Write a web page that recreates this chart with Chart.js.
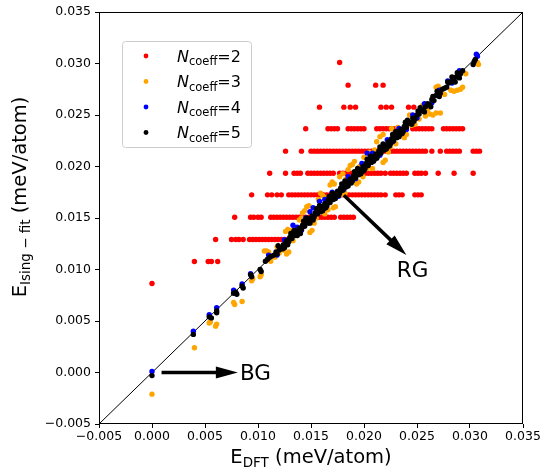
<!DOCTYPE html>
<html><head><meta charset="utf-8">
<script src="https://cdn.jsdelivr.net/npm/chart.js@4/dist/chart.umd.min.js"></script>
<style>html,body{margin:0;padding:0;background:#fff;}canvas{display:block;}</style>
</head><body>
<canvas id="c" width="545" height="476"></canvas>
<script>
// ---- axis ----
const axisMin = -0.005, axisMax = 0.035, axisStep = 0.005;

// ---- N_coeff = 2 (red): horizontal rows, y level -> x values ----
const redLevels = [0.00864, 0.01078, 0.01291, 0.01508, 0.01725, 0.01935, 0.02149, 0.02366, 0.02576, 0.0279, 0.0301];
const redRowX = [
  [0.0000],
  [0.0040, 0.0053, 0.0056, 0.0062],
  [0.0060, 0.0075, 0.0079, 0.0082, 0.0086, 0.0092, 0.0095, 0.0098, 0.0101, 0.0104, 0.0107, 0.0110, 0.0113, 0.0116, 0.0119, 0.0122, 0.0125, 0.0128],
  [0.0078, 0.0093, 0.0096, 0.0100, 0.0103, 0.0112, 0.0115, 0.0118, 0.0121, 0.0124, 0.0127, 0.0130, 0.0133, 0.0136, 0.0139, 0.0142, 0.0145, 0.0148, 0.0151, 0.0154, 0.0157, 0.0160, 0.0163, 0.0166, 0.0169, 0.0172, 0.0178, 0.0181, 0.0184, 0.0187, 0.0190],
  [0.0094, 0.0109, 0.0113, 0.0118, 0.0122, 0.0129, 0.0132, 0.0135, 0.0138, 0.0141, 0.0144, 0.0147, 0.0150, 0.0153, 0.0156, 0.0159, 0.0162, 0.0165, 0.0168, 0.0171, 0.0174, 0.0177, 0.0180, 0.0183, 0.0186, 0.0189, 0.0192, 0.0195, 0.0198, 0.0201, 0.0204, 0.0207, 0.0210, 0.0213, 0.0216, 0.0220, 0.0230, 0.0233, 0.0236, 0.0248, 0.0251, 0.0254],
  [0.0111, 0.0126, 0.0134, 0.0137, 0.0140, 0.0147, 0.0150, 0.0153, 0.0156, 0.0159, 0.0162, 0.0165, 0.0168, 0.0171, 0.0177, 0.0180, 0.0183, 0.0186, 0.0189, 0.0192, 0.0195, 0.0198, 0.0201, 0.0204, 0.0207, 0.0210, 0.0213, 0.0216, 0.0220, 0.0225, 0.0228, 0.0231, 0.0234, 0.0237, 0.0240, 0.0248, 0.0251, 0.0254, 0.0258, 0.0270, 0.0285, 0.0303],
  [0.0126, 0.0141, 0.0150, 0.0153, 0.0156, 0.0159, 0.0162, 0.0165, 0.0168, 0.0171, 0.0174, 0.0177, 0.0180, 0.0183, 0.0186, 0.0189, 0.0192, 0.0195, 0.0198, 0.0201, 0.0204, 0.0207, 0.0210, 0.0213, 0.0216, 0.0219, 0.0222, 0.0225, 0.0228, 0.0231, 0.0234, 0.0237, 0.0240, 0.0243, 0.0246, 0.0249, 0.0252, 0.0255, 0.0258, 0.0264, 0.0272, 0.0278, 0.0281, 0.0284, 0.0287, 0.0290, 0.0303, 0.0306, 0.0309],
  [0.0145, 0.0166, 0.0169, 0.0172, 0.0175, 0.0185, 0.0188, 0.0191, 0.0194, 0.0197, 0.0200, 0.0212, 0.0215, 0.0218, 0.0221, 0.0224, 0.0227, 0.0230, 0.0246, 0.0249, 0.0252, 0.0255, 0.0258, 0.0261, 0.0264, 0.0275, 0.0278, 0.0281, 0.0284, 0.0287, 0.0290, 0.0293],
  [0.0158, 0.0181, 0.0187, 0.0192, 0.0216, 0.0221, 0.0226, 0.0242, 0.0247],
  [0.0185, 0.0211, 0.0218],
  [0.0177]
];

// ---- N_coeff = 3 (orange) [x, y] ----
const orangePts = [[0.0000,-0.0021],[0.0040,0.0024],[0.0054,0.0048],[0.0055,0.0049],[0.0061,0.0047],[0.0060,0.0045],[0.0077,0.0068],[0.0078,0.0066],[0.0085,0.0069],[0.0094,0.0089],[0.0095,0.0091],[0.0102,0.0093],[0.0103,0.0095],[0.0106,0.0118],[0.0108,0.0118],[0.0110,0.0117],[0.0112,0.0108],[0.0116,0.0112],[0.0120,0.0116],[0.0127,0.0115],[0.0129,0.0117],[0.0126,0.0137],[0.0128,0.0139],[0.0130,0.0138],[0.0133,0.0128],[0.0137,0.0133],[0.0139,0.0148],[0.0141,0.0150],[0.0142,0.0155],[0.0144,0.0157],[0.0146,0.0161],[0.0148,0.0162],[0.0149,0.0136],[0.0151,0.0138],[0.0153,0.0145],[0.0157,0.0168],[0.0159,0.0174],[0.0161,0.0172],[0.0163,0.0154],[0.0166,0.0158],[0.0168,0.0182],[0.0170,0.0185],[0.0172,0.0183],[0.0171,0.0160],[0.0173,0.0161],[0.0177,0.0190],[0.0180,0.0193],[0.0182,0.0174],[0.0185,0.0197],[0.0187,0.0201],[0.0189,0.0202],[0.0191,0.0205],[0.0193,0.0183],[0.0195,0.0185],[0.0199,0.0190],[0.0200,0.0209],[0.0205,0.0214],[0.0208,0.0198],[0.0212,0.0224],[0.0215,0.0229],[0.0218,0.0231],[0.0218,0.0204],[0.0220,0.0206],[0.0223,0.0214],[0.0226,0.0237],[0.0230,0.0222],[0.0237,0.0230],[0.0238,0.0228],[0.0240,0.0231],[0.0243,0.0250],[0.0248,0.0241],[0.0252,0.0246],[0.0258,0.0249],[0.0262,0.0251],[0.0265,0.0250],[0.0268,0.0252],[0.0272,0.0252],[0.0268,0.0277],[0.0270,0.0278],[0.0276,0.0270],[0.0282,0.0274],[0.0285,0.0273],[0.0288,0.0274],[0.0291,0.0275],[0.0293,0.0277],[0.0296,0.0290],[0.0308,0.0299],[0.0307,0.0301],
[0.0118,0.0122],[0.0124,0.0119],[0.0135,0.0140],[0.0155,0.0150],[0.0165,0.0170],[0.0178,0.0172],[0.0183,0.0188],[0.0196,0.0200],[0.0203,0.0198],[0.0210,0.0216],[0.0225,0.0219],[0.0232,0.0238],[0.0245,0.0240],[0.0255,0.0259],[0.0260,0.0255]];

// ---- N_coeff = 4 (blue) [x, y] ----
const bluePts = [[0.0000,0.0001],[0.0039,0.0040],[0.0054,0.0056],[0.0061,0.0063],[0.0077,0.0080],[0.0085,0.0086],[0.0093,0.0096],[0.0110,0.0114],[0.0118,0.0114],[0.0125,0.0129],[0.0133,0.0143],[0.0137,0.0141],[0.0141,0.0138],[0.0145,0.0150],[0.0149,0.0156],[0.0152,0.0160],[0.0158,0.0166],[0.0160,0.0157],[0.0163,0.0168],[0.0170,0.0175],[0.0176,0.0171],[0.0181,0.0178],[0.0185,0.0190],[0.0192,0.0188],[0.0198,0.0203],[0.0203,0.0213],[0.0208,0.0213],[0.0215,0.0211],[0.0222,0.0226],[0.0227,0.0224],[0.0233,0.0237],[0.0240,0.0236],[0.0246,0.0250],[0.0250,0.0247],[0.0257,0.0261],[0.0264,0.0262],[0.0271,0.0274],[0.0279,0.0283],[0.0283,0.0281],[0.0290,0.0293],[0.0306,0.0309],[0.0307,0.0307]];

// ---- N_coeff = 5 (black) [x, y] ----
const blackPts = [[0.0000,-0.0003],[0.0039,0.0037],[0.0054,0.0054],[0.0056,0.0053],[0.0061,0.0058],[0.0061,0.0060],[0.0077,0.0077],[0.0079,0.0078],[0.0080,0.0076],[0.0085,0.0084],[0.0086,0.0082],[0.0093,0.0095],[0.0094,0.0093],[0.0102,0.0100],[0.0103,0.0098],[0.0107,0.0108],[0.0109,0.0110],[0.0111,0.0112],[0.0113,0.0113],
[0.0115,0.0114],[0.0117,0.0117],[0.0118,0.0115],[0.0120,0.0119],[0.0121,0.0121],[0.0123,0.0120],[0.0124,0.0124],[0.0126,0.0125],[0.0127,0.0128],[0.0129,0.0127],[0.0130,0.0131],[0.0132,0.0130],[0.0133,0.0134],[0.0135,0.0133],[0.0136,0.0137],[0.0138,0.0136],[0.0139,0.0140],[0.0141,0.0139],[0.0142,0.0143],[0.0144,0.0142],[0.0145,0.0146],[0.0147,0.0145],[0.0148,0.0149],[0.0150,0.0148],[0.0151,0.0152],[0.0153,0.0151],[0.0154,0.0155],[0.0156,0.0154],[0.0157,0.0158],[0.0159,0.0156],[0.0160,0.0161],[0.0162,0.0159],[0.0163,0.0164],[0.0165,0.0162],[0.0166,0.0167],[0.0168,0.0165],[0.0169,0.0170],[0.0171,0.0168],[0.0172,0.0173],[0.0174,0.0171],[0.0175,0.0176],[0.0177,0.0174],[0.0178,0.0179],[0.0180,0.0177],[0.0181,0.0182],[0.0183,0.0180],[0.0184,0.0185],[0.0186,0.0184],[0.0187,0.0188],[0.0189,0.0186],[0.0190,0.0191],[0.0192,0.0189],[0.0193,0.0194],[0.0195,0.0192],[0.0196,0.0197],[0.0198,0.0195],[0.0199,0.0200],[0.0201,0.0198],[0.0202,0.0203],[0.0204,0.0201],[0.0205,0.0206],[0.0207,0.0204],[0.0208,0.0209],[0.0210,0.0207],[0.0211,0.0212],[0.0213,0.0210],[0.0214,0.0215],[0.0216,0.0213],[0.0217,0.0218],[0.0219,0.0216],[0.0220,0.0221],[0.0222,0.0219],[0.0223,0.0224],[0.0225,0.0222],[0.0226,0.0227],[0.0228,0.0225],[0.0229,0.0230],[0.0231,0.0228],[0.0232,0.0233],[0.0234,0.0231],[0.0235,0.0236],[0.0237,0.0234],[0.0238,0.0239],[0.0240,0.0238],[0.0242,0.0242],[0.0244,0.0243],[0.0246,0.0247],[0.0248,0.0246],[0.0250,0.0250],[0.0252,0.0251],[0.0254,0.0255],[0.0256,0.0254],[0.0258,0.0258],[0.0260,0.0261],[0.0262,0.0260],[0.0264,0.0265],[0.0266,0.0264],[0.0268,0.0269],[0.0270,0.0270],[0.0272,0.0271],[0.0274,0.0275],[0.0276,0.0276],[0.0278,0.0277],[0.0280,0.0281],[0.0282,0.0282],[0.0284,0.0285],[0.0285,0.0283],[0.0287,0.0287],[0.0289,0.0288],[0.0291,0.0290],[0.0293,0.0293],[0.0303,0.0299],[0.0304,0.0302],[0.0305,0.0304],
[0.0128,0.0124],[0.0134,0.0138],[0.0140,0.0135],[0.0146,0.0150],[0.0152,0.0148],[0.0158,0.0162],[0.0164,0.0160],[0.0170,0.0174],[0.0176,0.0172],[0.0182,0.0186],[0.0188,0.0184],[0.0194,0.0198],[0.0200,0.0196],[0.0206,0.0210],[0.0212,0.0208],[0.0218,0.0222],[0.0224,0.0220],[0.0230,0.0234],[0.0236,0.0232],[0.0241,0.0245],[0.0247,0.0244],[0.0253,0.0257],[0.0263,0.0258],[0.0269,0.0273],[0.0283,0.0287],[0.0286,0.0282],
[0.0119,0.0123],[0.0125,0.0121],[0.0131,0.0135],[0.0137,0.0133],[0.0143,0.0147],[0.0149,0.0145],[0.0155,0.0159],[0.0161,0.0157],[0.0167,0.0171],[0.0173,0.0169],[0.0179,0.0183],[0.0185,0.0181],[0.0191,0.0195],[0.0197,0.0193],[0.0203,0.0207],[0.0209,0.0205],[0.0215,0.0219],[0.0221,0.0217],[0.0227,0.0231],[0.0233,0.0229],[0.0239,0.0243],[0.0245,0.0241],[0.0251,0.0254],[0.0257,0.0253],[0.0265,0.0268],[0.0271,0.0268],[0.0279,0.0282],[0.0288,0.0291],[0.0290,0.0286]];

// ---- series labels / colours ----
const seriesN = ['2', '3', '4', '5'];
const seriesColors = ['#ff0000', '#ffa500', '#0000ff', '#000000'];

// ---- annotations (data units) ----
const arrowRG = { from: [0.0181, 0.0172], to: [0.0240, 0.0114] };
const arrowBG = { from: [0.0009, 0.0000], to: [0.0081, 0.0000] };
const textRG = { label: 'RG', at: [0.0231, 0.0093] };
const textBG = { label: 'BG', at: [0.0083, -0.0007] };

// ---- build datasets ----
const toXY = a => a.map(p => ({ x: p[0], y: p[1] }));
const redPts = [];
redLevels.forEach((lv, i) => redRowX[i].forEach(x => redPts.push({ x: x, y: lv })));
const seriesData = [redPts, toXY(orangePts), toXY(bluePts), toXY(blackPts)];

const FONT = '"DejaVu Sans", sans-serif';
Chart.defaults.font.family = FONT;

const fmt = v => (v < -1e-9 ? '\u2212' : '') + Math.abs(v).toFixed(3);

function rich(ctx, parts, x, y, align) {
  let w = 0;
  const ws = parts.map(p => { ctx.font = (p[2] ? 'italic ' : '') + p[1] + 'px ' + FONT; const m = ctx.measureText(p[0]).width; w += m; return m; });
  let cx = align === 'center' ? x - w / 2 : x;
  parts.forEach((p, i) => { ctx.font = (p[2] ? 'italic ' : '') + p[1] + 'px ' + FONT; ctx.fillText(p[0], cx, y + p[3]); cx += ws[i]; });
}

function arrow(ctx, x1, y1, x2, y2, w, hl, hw) {
  const dx = x2 - x1, dy = y2 - y1, L = Math.hypot(dx, dy), ux = dx / L, uy = dy / L, nx = -uy, ny = ux;
  const bx = x2 - ux * hl, by = y2 - uy * hl;
  ctx.beginPath();
  ctx.moveTo(x1 + nx * w / 2, y1 + ny * w / 2);
  ctx.lineTo(bx + nx * w / 2, by + ny * w / 2);
  ctx.lineTo(bx + nx * hw / 2, by + ny * hw / 2);
  ctx.lineTo(x2, y2);
  ctx.lineTo(bx - nx * hw / 2, by - ny * hw / 2);
  ctx.lineTo(bx - nx * w / 2, by - ny * w / 2);
  ctx.lineTo(x1 - nx * w / 2, y1 - ny * w / 2);
  ctx.closePath();
  ctx.fill();
}

const overlay = {
  id: 'overlay',
  afterDraw(chart) {
    const ctx = chart.ctx, a = chart.chartArea, xs = chart.scales.x, ys = chart.scales.y;
    ctx.save();
    ctx.strokeStyle = '#000'; ctx.lineWidth = 1;
    ctx.strokeRect(Math.round(a.left) + 0.5, Math.round(a.top) + 0.5, Math.round(a.right - a.left) - 1, Math.round(a.bottom - a.top) - 1);
    ctx.fillStyle = '#000';
    ctx.textBaseline = 'alphabetic';
    [arrowRG, arrowBG].forEach(ar => arrow(ctx, xs.getPixelForValue(ar.from[0]), ys.getPixelForValue(ar.from[1]), xs.getPixelForValue(ar.to[0]), ys.getPixelForValue(ar.to[1]), 3.5, 22, 12));
    ctx.font = '21.5px ' + FONT;
    [textRG, textBG].forEach(t => ctx.fillText(t.label, xs.getPixelForValue(t.at[0]), ys.getPixelForValue(t.at[1])));
    rich(ctx, [['E', 19.5, false, 0], ['DFT', 13.5, false, 4], [' (meV/atom)', 19.5, false, 0]], (a.left + a.right) / 2, 463, 'center');
    ctx.save();
    ctx.translate(26, 197);
    ctx.rotate(-Math.PI / 2);
    rich(ctx, [['E', 19.5, false, 0], ['Ising \u2212 fit', 13.5, false, 4], [' (meV/atom)', 19.5, false, 0]], 0, 0, 'center');
    ctx.restore();
    const bx = 122.5, by = 41.5, bw = 129, bh = 106;
    ctx.beginPath();
    ctx.roundRect(bx, by, bw, bh, 3);
    ctx.fillStyle = 'rgba(255,255,255,0.8)'; ctx.fill();
    ctx.strokeStyle = '#cccccc'; ctx.stroke();
    seriesN.forEach((n, i) => {
      const cy = 56 + i * 25.5;
      ctx.fillStyle = seriesColors[i];
      ctx.beginPath(); ctx.arc(146, cy, 2.4, 0, Math.PI * 2); ctx.fill();
      ctx.fillStyle = '#000';
      rich(ctx, [['N', 16, true, 0], ['coeff', 11.5, false, 3.5], ['=' + n, 16, false, 0]], 177, cy + 5.5, 'left');
    });
    ctx.restore();
  }
};

const order = [4, 3, 2, 1];
const datasets = seriesData.map((d, i) => ({
  type: 'scatter', data: d, backgroundColor: seriesColors[i], borderColor: seriesColors[i],
  borderWidth: 0, pointRadius: 2.7, pointHoverRadius: 2.7, order: order[i]
}));
datasets.push({ type: 'line', data: [{ x: axisMin, y: axisMin }, { x: axisMax, y: axisMax }], borderColor: '#000', borderWidth: 1, pointRadius: 0, fill: false, order: 5 });

const tickCfg = { stepSize: axisStep, callback: fmt, color: '#000', font: { size: 12.5 }, maxRotation: 0, autoSkip: false };
new Chart(document.getElementById('c'), {
  data: { datasets: datasets },
  options: {
    responsive: false, devicePixelRatio: 1, animation: false,
    layout: { padding: { top: 12, right: 22, left: 0, bottom: 0 } },
    plugins: { legend: { display: false }, tooltip: { enabled: false } },
    scales: {
      x: { type: 'linear', position: 'bottom', min: axisMin, max: axisMax,
        afterFit(s) { s.height = 52; },
        ticks: Object.assign({}, tickCfg, { padding: 1 }),
        grid: { drawOnChartArea: false, drawTicks: true, tickLength: 4, color: '#000' }, border: { display: false } },
      y: { type: 'linear', position: 'left', min: axisMin, max: axisMax,
        afterFit(s) { s.width = 99; },
        ticks: Object.assign({}, tickCfg, { padding: 4 }),
        grid: { drawOnChartArea: false, drawTicks: true, tickLength: 4, color: '#000' }, border: { display: false } }
    }
  },
  plugins: [overlay]
});
</script>
</body></html>
